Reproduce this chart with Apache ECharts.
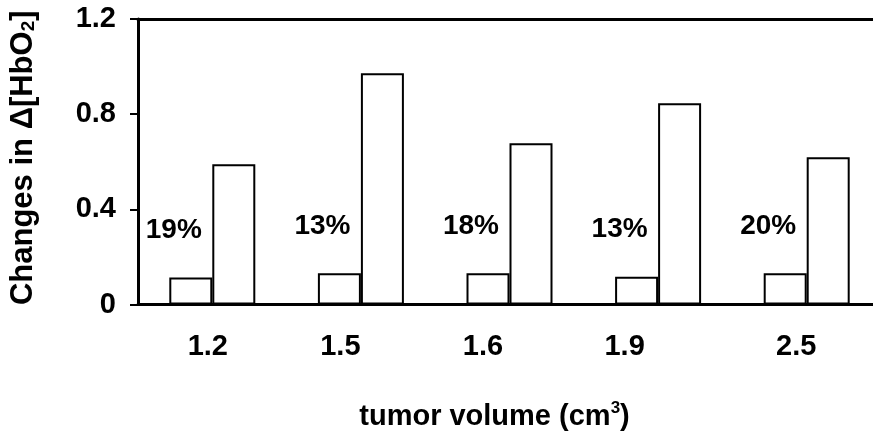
<!DOCTYPE html>
<html>
<head>
<meta charset="utf-8">
<script src="https://cdn.jsdelivr.net/npm/echarts@6/dist/echarts.min.js"></script>
<style>
html,body{margin:0;padding:0;background:#fff;}
#chart{width:873px;height:436px;}
</style>
</head>
<body>
<div id="chart"></div>
<script>
// ---- data ----
const categories = ['1.2', '1.5', '1.6', '1.9', '2.5'];
const smallValues = [0.113, 0.131, 0.131, 0.117, 0.131];
const largeValues = [0.589, 0.972, 0.678, 0.846, 0.619];
const percentLabels = ['19%', '13%', '18%', '13%', '20%'];
const yTicks = [0, 0.4, 0.8, 1.2];

// ---- styling ----
const FONT = '"Liberation Sans", Arial, sans-serif';
const FS = 29;
const labelShift = [9, 41, 53, 67, 21]; // right padding to nudge category labels left
const richCats = {};
labelShift.forEach((p, i) => {
  richCats['c' + i] = { fontSize: FS, fontWeight: 'bold', fontFamily: FONT, color: '#000', padding: [0, p, 0, 0] };
});

const chart = echarts.init(document.getElementById('chart'), null, { renderer: 'canvas' });
const barStyle = { color: '#fff', borderColor: '#000', borderWidth: 2 };

chart.setOption({
  animation: false,
  backgroundColor: '#fff',
  grid: { left: 138, right: -8, top: 19, bottom: 131.5, containLabel: false, outerBoundsMode: 'none' },
  xAxis: [
    {
      type: 'category',
      data: categories,
      position: 'bottom',
      axisLine: { show: true, lineStyle: { color: '#000', width: 3 } },
      axisTick: { show: false },
      axisLabel: {
        margin: 28,
        formatter: (v, i) => '{c' + i + '|' + v + '}',
        rich: richCats
      },
      name: 'tumor volume (cm{sup|3})',
      nameLocation: 'middle',
      nameGap: 95,
      nameTextStyle: {
        fontSize: FS, fontWeight: 'bold', fontFamily: FONT, color: '#000',
        padding: [0, 30, 0, 0],
        rich: { sup: { fontSize: 17, fontWeight: 'bold', fontFamily: FONT, color: '#000', padding: [0, 0, 18, 0] } }
      }
    },
    {
      type: 'category',
      data: categories,
      position: 'top',
      axisLine: { show: true, lineStyle: { color: '#000', width: 3 } },
      axisTick: { show: false },
      axisLabel: { show: false }
    }
  ],
  yAxis: {
    type: 'value',
    min: 0,
    max: 1.2,
    interval: 0.4,
    axisLine: { show: true, lineStyle: { color: '#000', width: 3 } },
    axisTick: { show: true, length: 8, lineStyle: { color: '#000', width: 2 } },
    splitLine: { show: false },
    axisLabel: {
      margin: 22,
      fontSize: FS, fontWeight: 'bold', fontFamily: FONT, color: '#000',
      formatter: v => (yTicks.indexOf(Math.round(v * 10) / 10) >= 0 ? String(Math.round(v * 10) / 10) : '')
    },
    name: 'Changes in \u0394[HbO{sub|2}]',
    nameLocation: 'middle',
    nameGap: 99,
    nameTextStyle: {
      fontSize: 31, fontWeight: 'bold', fontFamily: FONT, color: '#000',
      padding: [0, 0, 0, 8],
      rich: { sub: { fontSize: 19, fontWeight: 'bold', fontFamily: FONT, color: '#000', padding: [10, 0, 0, 0] } }
    }
  },
  series: [
    {
      type: 'bar',
      data: smallValues,
      barWidth: 43,
      barGap: '0%',
      itemStyle: barStyle,
      label: {
        show: true,
        position: 'top',
        offset: [-17, -28],
        formatter: p => percentLabels[p.dataIndex],
        fontSize: 28, fontWeight: 'bold', fontFamily: FONT, color: '#000'
      }
    },
    {
      type: 'bar',
      data: largeValues,
      barWidth: 43,
      barGap: '0%',
      itemStyle: barStyle
    }
  ]
});
</script>
</body>
</html>
